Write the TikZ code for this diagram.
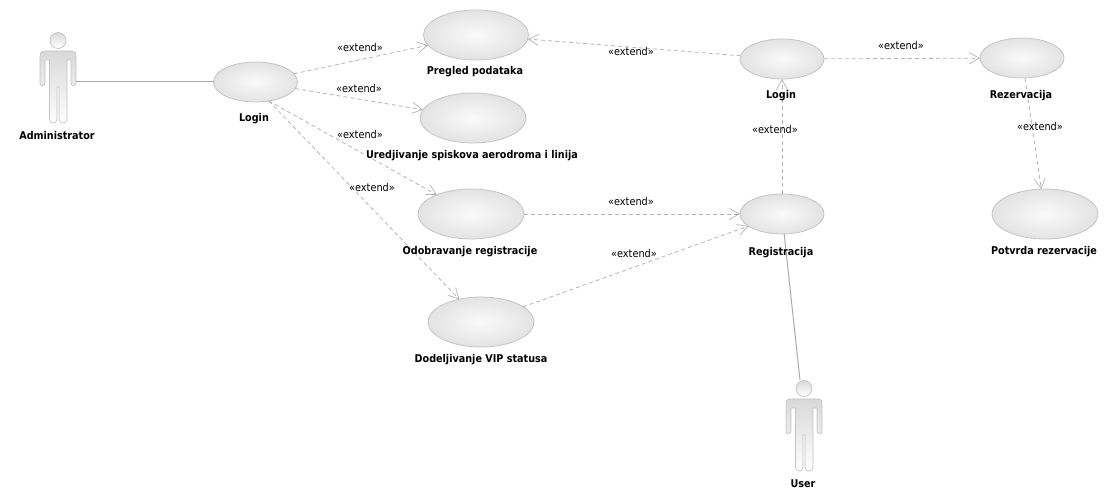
\documentclass[tikz,border=0pt]{standalone}
\usepackage{fontspec}
\setmainfont{DejaVu Sans}[FakeStretch=0.9]
\usetikzlibrary{arrows.meta,shapes.geometric}
\definecolor{edgeg}{HTML}{B4B4B4}
\definecolor{rimg}{HTML}{C4C4C4}
\definecolor{lineg}{HTML}{ABABAB}
\pgfdeclareradialshading{ucshade}{\pgfpoint{0bp}{0bp}}{color(0bp)=(white!98!black); color(36bp)=(black!15); color(50bp)=(black!17)}
\tikzset{
  usecase/.style={ellipse,draw=rimg,line width=0.8pt,inner sep=0pt,outer sep=0pt,shading=ucshade},
  uclabel/.style={font=\fontsize{10.7}{12}\selectfont\bfseries,text=black,inner sep=0pt},
  stereo/.style={font=\fontsize{10.8}{12}\selectfont,text=black,inner sep=1pt},
  assoc/.style={draw=lineg,line width=1pt},
  ext/.style={draw=edgeg,line width=0.8pt,dash pattern=on 4pt off 3pt,
    -{Straight Barb[length=10pt,width=11pt,line width=0.7pt]}},
  actorfill/.style={draw=rimg,line width=0.7pt,top color=black!15,bottom color=white},
}
\newcommand{\actorfigure}[2]{%
  \begin{scope}[shift={(#1,#2)}]
    \shade[actorfill] (0,-10.5) circle (8);
    \shade[actorfill] (-13,0) .. controls (-18,0) and (-18,3) .. (-18,6) -- (-18,32)
      .. controls (-18,35.5) and (-13,35.5) .. (-13,32) -- (-13,9) -- (-8.5,9) -- (-8.5,68)
      .. controls (-8.5,73.5) and (-1,73.5) .. (-1,68) -- (-1,36) -- (1,36) -- (1,68)
      .. controls (1,73.5) and (9,73.5) .. (9,68) -- (9,9) -- (13,9) -- (13,32)
      .. controls (13,35.5) and (18,35.5) .. (18,32) -- (18,6)
      .. controls (18,3) and (18,0) .. (13,0) -- cycle;
  \end{scope}}
\begin{document}
\begin{tikzpicture}[x=1pt,y=-1pt]
\useasboundingbox (0,0) rectangle (1119,502);
\actorfigure{58}{51}
\actorfigure{804}{399}
\coordinate (admin) at (76,82);
\coordinate (user) at (800,380);
\node[usecase,minimum width=84pt,minimum height=40pt] (login1) at (255.500,82) {};
\node[usecase,minimum width=105pt,minimum height=50pt] (pregled) at (476,35) {};
\node[usecase,minimum width=106pt,minimum height=50pt] (uredj) at (473,118) {};
\node[usecase,minimum width=106pt,minimum height=50pt] (odob) at (471,214) {};
\node[usecase,minimum width=106pt,minimum height=50pt] (dodel) at (481,322) {};
\node[usecase,minimum width=84pt,minimum height=40pt] (login2) at (782,59) {};
\node[usecase,minimum width=84pt,minimum height=40pt] (regis) at (782,214) {};
\node[usecase,minimum width=84pt,minimum height=40pt] (rezer) at (1022,58) {};
\node[usecase,minimum width=106pt,minimum height=50pt] (potvr) at (1045,214) {};
\draw[assoc] (admin) -- (login1);
\draw[assoc] (regis) -- (user);
\draw[ext] (login1) -- (pregled);
\draw[ext] (login1) -- (uredj);
\draw[ext] (login1.-55) -- (odob);
\draw[ext] (login1.-55) -- (dodel);
\draw[ext] (login2) -- (pregled);
\draw[ext] (login2) -- (rezer);
\draw[ext] (rezer) -- (potvr);
\draw[ext] (odob) -- (regis);
\draw[ext] (dodel) -- (regis);
\draw[ext] (regis) -- (login2);
\node[uclabel] (adminl) at (57,136) {Administrator};
\node[uclabel] (userl) at (803,484) {User};
\node[uclabel] at (254,119) {Login};
\node[uclabel] at (475,72) {Pregled podataka};
\node[uclabel] at (472,156) {Uredjivanje spiskova aerodroma i linija};
\node[uclabel] at (470,252) {Odobravanje registracije};
\node[uclabel] at (481,360) {Dodeljivanje VIP statusa};
\node[uclabel] at (781,96) {Login};
\node[uclabel] at (781,253) {Registracija};
\node[uclabel] at (1021,96) {Rezervacija};
\node[uclabel] at (1044,252) {Potvrda rezervacije};
\node[stereo] at (360,47) {«extend»};
\node[stereo] at (359,88) {«extend»};
\node[stereo] at (360,134) {«extend»};
\node[stereo] at (372,187) {«extend»};
\node[stereo] at (631,51) {«extend»};
\node[stereo] at (901,45) {«extend»};
\node[stereo] at (1040,126) {«extend»};
\node[stereo] at (631,201) {«extend»};
\node[stereo] at (634,253) {«extend»};
\node[stereo] at (775,129) {«extend»};
\end{tikzpicture}
\end{document}
